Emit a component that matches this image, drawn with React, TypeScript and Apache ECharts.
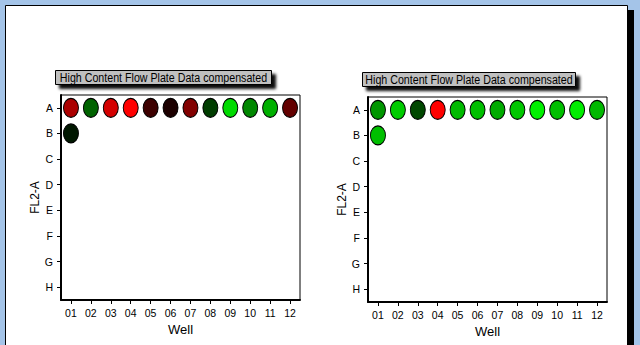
import React, { useEffect, useRef } from "react";
import * as echarts from "echarts";

const wells = ["01", "02", "03", "04", "05", "06", "07", "08", "09", "10", "11", "12"];
const rows = ["A", "B", "C", "D", "E", "F", "G", "H"];
// signed intensity: -1 = bright red, 0 = black, +1 = bright green
const leftRowA = [-0.67, 0.39, -0.83, -1.0, -0.24, -0.11, -0.51, 0.24, 0.86, 0.53, 0.69, -0.39];
const leftRowB = [0.09];
const rightRowA = [0.59, 0.8, 0.28, -1.0, 0.73, 0.75, 0.67, 0.78, 0.94, 0.75, 0.93, 0.72];
const rightRowB = [0.75];
const plateTitle = "High Content Flow Plate Data compensated";
const xName = "Well";
const yName = "FL2-A";

const SANS = '"Liberation Sans", Arial, sans-serif';
const ELLIPSE =
  "path://M10,0 C15.52,0 20,4.48 20,10 C20,15.52 15.52,20 10,20 C4.48,20 0,15.52 0,10 C0,4.48 4.48,0 10,0 Z";

function plateData(rowA: number[], rowB: number[]) {
  return [
    ...rowA.map((v, i) => [i, 0, v]),
    ...rowB.map((v, i) => [i, 1, v]),
  ];
}

function axes(gridIndex: number) {
  const x = {
    type: "category",
    gridIndex,
    data: wells,
    position: "bottom",
    boundaryGap: true,
    name: xName,
    nameLocation: "middle",
    nameGap: 20,
    nameTextStyle: { fontFamily: SANS, fontSize: 13, color: "#000" },
    axisLine: { show: true, lineStyle: { color: "#000", width: 2 } },
    axisTick: { show: true, alignWithLabel: true, length: 4, lineStyle: { color: "#000", width: 1 } },
    axisLabel: { fontFamily: SANS, fontSize: 10.5, color: "#000", margin: 7, interval: 0 },
    splitLine: { show: false },
  };
  const y = {
    type: "category",
    gridIndex,
    data: rows,
    inverse: true,
    position: "left",
    boundaryGap: true,
    name: yName,
    nameLocation: "middle",
    nameRotate: 90,
    nameGap: 16,
    nameTextStyle: { fontFamily: SANS, fontSize: 12, color: "#000" },
    axisLine: { show: true, lineStyle: { color: "#000", width: 2 } },
    axisTick: { show: true, alignWithLabel: true, length: 4, lineStyle: { color: "#000", width: 1 } },
    axisLabel: { fontFamily: SANS, fontSize: 10.5, color: "#000", margin: 8, interval: 0 },
    splitLine: { show: false },
  };
  return { x, y };
}

function titleBox(x: number, y: number, w: number, h: number) {
  return {
    type: "group",
    z: 5,
    children: [
      {
        type: "rect",
        shape: { x, y, width: w, height: h },
        style: {
          fill: "#c0c0c0",
          stroke: "#000",
          lineWidth: 1,
          shadowBlur: 3,
          shadowColor: "rgba(0,0,0,0.95)",
          shadowOffsetX: 4,
          shadowOffsetY: 4,
        },
      },
      {
        type: "text",
        x: x + w / 2,
        y: y + h / 2 + 0.5,
        scaleX: 0.79,
        style: {
          text: plateTitle,
          fill: "#000",
          font: `13.5px ${SANS}`,
          align: "center",
          verticalAlign: "middle",
        },
      },
    ],
  };
}

export default function App() {
  const ref = useRef<HTMLDivElement>(null);
  useEffect(() => {
    if (!ref.current) return;
    const chart = echarts.init(ref.current, null, { renderer: "svg" });
    const a0 = axes(0);
    const a1 = axes(1);
    const seriesBase = {
      type: "scatter",
      symbol: ELLIPSE,
      symbolSize: [15, 19],
      itemStyle: { borderColor: "#000", borderWidth: 1, opacity: 1 },
      emphasis: { disabled: true },
    };
    chart.setOption({
      animation: false,
      backgroundColor: "#a4c4e8",
      grid: [
        { left: 61, top: 95, width: 239, height: 205, show: true, borderColor: "#000", borderWidth: 1, backgroundColor: "#fff", containLabel: false },
        { left: 368, top: 97, width: 239, height: 205, show: true, borderColor: "#000", borderWidth: 1, backgroundColor: "#fff", containLabel: false },
      ],
      xAxis: [a0.x, a1.x],
      yAxis: [a0.y, a1.y],
      visualMap: {
        type: "continuous",
        show: false,
        min: -1,
        max: 1,
        dimension: 2,
        seriesIndex: [0, 1],
        inRange: { color: ["#ff0000", "#000000", "#00ff00"] },
      },
      graphic: [
        { type: "rect", z: -20, silent: true, shape: { x: 628, y: 10, width: 6, height: 340 }, style: { fill: "#000" } },
        { type: "rect", z: -19, silent: true, shape: { x: 5.5, y: 5.5, width: 622, height: 345 }, style: { fill: "#fff", stroke: "#000", lineWidth: 1 } },
        titleBox(55.5, 70.5, 216, 14),
        titleBox(362.5, 72.5, 213, 14),
      ],
      series: [
        { ...seriesBase, xAxisIndex: 0, yAxisIndex: 0, data: plateData(leftRowA, leftRowB) },
        { ...seriesBase, xAxisIndex: 1, yAxisIndex: 1, data: plateData(rightRowA, rightRowB) },
      ],
    });
    return () => chart.dispose();
  }, []);
  return (
    <div
      ref={ref}
      style={{ position: "fixed", left: 0, top: 0, width: 640, height: 345 }}
    />
  );
}
